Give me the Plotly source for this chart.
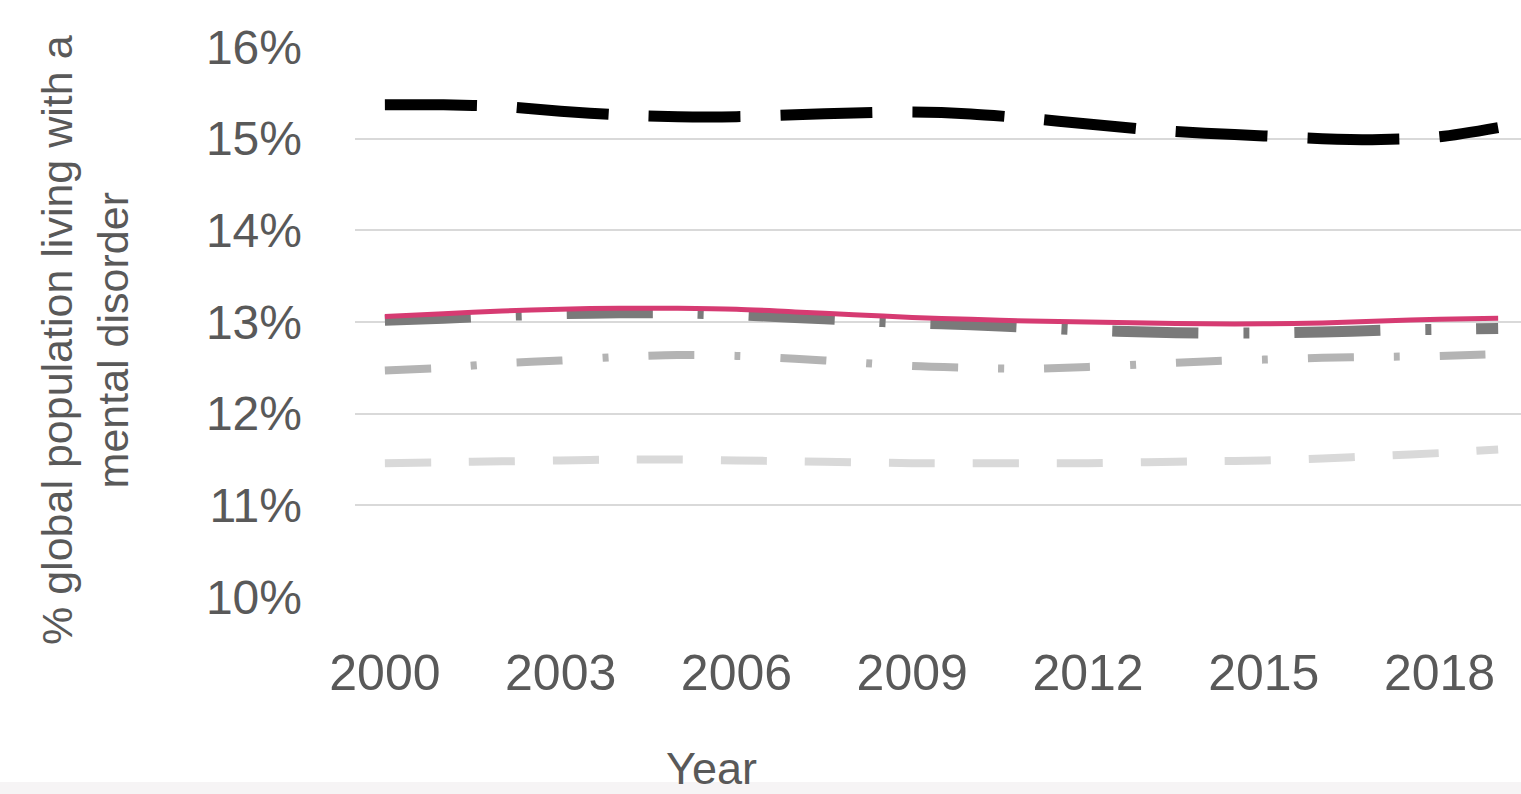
import plotly.graph_objects as go

# Years on the horizontal axis
years = list(range(2000, 2020))

# Share of global population living with a mental disorder (%)
series_black = [15.37, 15.37, 15.35, 15.30, 15.26, 15.24, 15.24, 15.26, 15.28, 15.29,
                15.27, 15.22, 15.16, 15.10, 15.06, 15.03, 15.00, 14.99, 15.02, 15.12]
series_pink = [13.06, 13.09, 13.12, 13.14, 13.15, 13.15, 13.14, 13.11, 13.08, 13.05,
               13.03, 13.01, 13.00, 12.99, 12.98, 12.98, 12.99, 13.01, 13.03, 13.04]
series_darkgray = [13.02, 13.04, 13.07, 13.09, 13.10, 13.10, 13.08, 13.05, 13.02, 12.99,
                   12.97, 12.94, 12.91, 12.89, 12.88, 12.88, 12.89, 12.91, 12.92, 12.93]
series_midgray = [12.47, 12.50, 12.55, 12.58, 12.62, 12.64, 12.63, 12.60, 12.56, 12.52,
                  12.50, 12.49, 12.51, 12.54, 12.57, 12.59, 12.61, 12.62, 12.63, 12.65]
series_lightgray = [11.46, 11.47, 11.48, 11.49, 11.50, 11.50, 11.49, 11.48, 11.47, 11.46,
                    11.46, 11.46, 11.46, 11.47, 11.48, 11.49, 11.51, 11.54, 11.57, 11.61]

y_ticks = [10, 11, 12, 13, 14, 15, 16]
y_tick_text = ["10%", "11%", "12%", "13%", "14%", "15%", "16%"]
x_ticks = [2000, 2003, 2006, 2009, 2012, 2015, 2018]

FONT = "Liberation Sans Narrow, Arial Narrow, Liberation Sans, Arial, sans-serif"
TEXT = "#595959"

# Plot area in pixels: left 355, top 47, bottom 597 (height 550)
PLOT_L, PLOT_T, PLOT_B, PLOT_W = 355, 47, 597, 1166
PLOT_H = PLOT_B - PLOT_T

fig = go.Figure()

def add_line(values, name, color, width, dash):
    fig.add_trace(go.Scatter(
        x=years, y=values, name=name, mode="lines",
        line=dict(color=color, width=width, dash=dash, shape="spline", smoothing=0.8),
        hoverinfo="x+y+name",
    ))

add_line(series_lightgray, "Series E", "#d9d9d9", 8, "46px,38px")
add_line(series_midgray, "Series D", "#b4b4b4", 8, "46px,40px,6px,40px")
add_line(series_darkgray, "Series C", "#7a7a7a", 11, "86px,45px,6px,45px")
add_line(series_pink, "Series B", "#d63b72", 5, "solid")
add_line(series_black, "Series A", "#000000", 11, "92px,40px")

fig.update_layout(
    width=1521, height=794,
    margin=dict(l=PLOT_L, r=0, t=PLOT_T, b=794 - PLOT_B),
    paper_bgcolor="white", plot_bgcolor="white",
    showlegend=False,
    font=dict(family=FONT, color=TEXT),
    xaxis=dict(
        range=[1999.49, 2019.39],
        tickmode="array", tickvals=x_ticks, ticktext=[str(v) for v in x_ticks],
        tickfont=dict(size=50, family=FONT, color=TEXT),
        showgrid=False, zeroline=False, showline=False, ticks="",
        ticklabelstandoff=42,
    ),
    yaxis=dict(
        range=[10, 16],
        tickmode="array", tickvals=y_ticks, ticktext=y_tick_text,
        tickfont=dict(size=48, family=FONT, color=TEXT),
        showgrid=True, gridcolor="#d9d9d9", gridwidth=2,
        zeroline=False, showline=False, ticks="",
        ticklabelstandoff=52,
    ),
    shapes=[
        dict(type="rect", xref="paper", yref="paper",
             x0=-PLOT_L / PLOT_W, x1=1.0,
             y0=(PLOT_B - 794) / PLOT_H, y1=(PLOT_B - 782) / PLOT_H,
             fillcolor="#f6f4f5", line=dict(width=0), layer="below"),
    ],
    annotations=[
        dict(text="% global population living with a<br>mental disorder",
             xref="paper", yref="paper", x=(85 - PLOT_L) / PLOT_W, y=(PLOT_B - 340) / PLOT_H,
             xanchor="center", yanchor="middle", textangle=-90, showarrow=False,
             font=dict(size=43, family=FONT, color=TEXT)),
        dict(text="Year", xref="paper", yref="paper", x=(711 - PLOT_L) / PLOT_W,
             y=(PLOT_B - 768) / PLOT_H,
             xanchor="center", yanchor="middle", showarrow=False,
             font=dict(size=45, family=FONT, color=TEXT)),
    ],
)

fig.write_html("out.html")
